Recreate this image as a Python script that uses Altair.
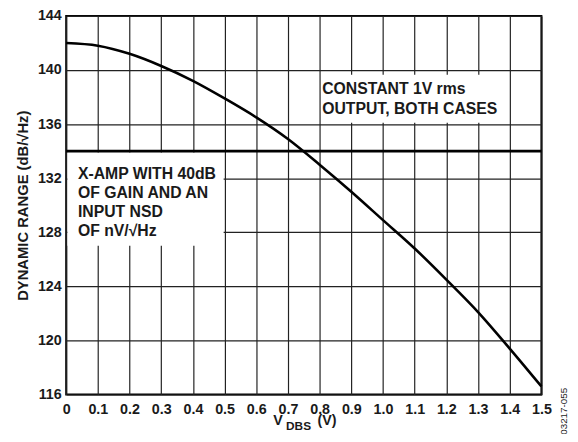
import altair as alt
import pandas as pd

# ---- data ----
vdbs = [0.0, 0.1, 0.2, 0.3, 0.4, 0.5, 0.6, 0.7, 0.8, 0.9, 1.0, 1.1, 1.2, 1.3, 1.4, 1.5]
dyn_range = [142.0, 141.8, 141.2, 140.3, 139.2, 137.9, 136.5, 134.9, 133.0, 131.0,
             128.9, 126.8, 124.5, 122.1, 119.4, 116.6]

xamp_level = [134.0]

x_ticks = [0.0, 0.1, 0.2, 0.3, 0.4, 0.5, 0.6, 0.7, 0.8, 0.9, 1.0, 1.1, 1.2, 1.3, 1.4, 1.5]
y_ticks = [116, 120, 124, 128, 132, 136, 140, 144]

note_lines = ["X-AMP WITH 40dB", "OF GAIN AND AN", "INPUT NSD", "OF nV/\u221aHz",
              "CONSTANT 1V rms", "OUTPUT, BOTH CASES"]
note_x = [0.037, 0.037, 0.037, 0.037, 0.808, 0.808]
note_y = [132.34, 130.88, 129.48, 128.08, 138.59, 137.13]

box_x = [0.004, 0.805]
box_x2 = [0.497, 1.395]
box_y = [127.0, 136.1]
box_y2 = [133.9, 139.65]

FONT = "Liberation Sans"
W, H = 482, 384

curve_df = pd.DataFrame({"v": vdbs, "dr": dyn_range})
level_df = pd.DataFrame({"lvl": xamp_level})
note_df = pd.DataFrame({"t": note_lines, "x": note_x, "y": note_y})
box_df = pd.DataFrame({"x": box_x, "x2": box_x2, "y": box_y, "y2": box_y2})

xscale = alt.Scale(domain=[0, 1.5], nice=False, zero=False)
yscale = alt.Scale(domain=[116, 144], nice=False, zero=False)

xaxis = alt.Axis(values=x_ticks, title=None, grid=True, domain=False, ticks=False,
                 labelExpr="datum.value == 0 ? '0' : format(datum.value, '.1f')",
                 labelPadding=8, labelFontSize=14.5, labelFlush=False,
                 labelOverlap=False)
yaxis = alt.Axis(values=y_ticks, title="DYNAMIC RANGE (dB/\u221aHz)", grid=True,
                 domain=False, ticks=False,
                 labelPadding=5, labelFontSize=14.5, labelFlush=False,
                 labelOverlap=False,
                 titleX=-44, titleY=H / 2, titleAngle=270, titleAlign="center",
                 titleBaseline="middle", titleFontSize=15)


def X(field):
    return alt.X(field, scale=xscale, axis=xaxis)


def Y(field):
    return alt.Y(field, scale=yscale, axis=yaxis)


boxes = alt.Chart(box_df).mark_rect(fill="white").encode(
    x=X("x:Q"), x2="x2:Q", y=Y("y:Q"), y2="y2:Q",
)

curve = alt.Chart(curve_df).mark_line(color="black", strokeWidth=2.6,
                                      interpolate="monotone").encode(
    x=X("v:Q"), y=Y("dr:Q"),
)

level = alt.Chart(level_df).mark_rule(color="black", strokeWidth=2.6).encode(
    y=Y("lvl:Q"),
)

notes = alt.Chart(note_df).mark_text(font=FONT, fontWeight="bold", fontSize=16,
                                     align="left", baseline="middle",
                                     color="#1a1a1a").encode(
    x=X("x:Q"), y=Y("y:Q"), text="t:N",
)

one = alt.Data(values=[{}])


def label(txt, px, py, size, **kw):
    return alt.Chart(one).mark_text(text=txt, font=FONT, fontSize=size,
                                    color="#1a1a1a", **kw).encode(
        x=alt.value(px), y=alt.value(py))


t_v = label("V", 210, 415, 14.5, fontWeight="bold", align="left", baseline="alphabetic")
t_sub = label("DBS", 223, 419.5, 12, fontWeight="bold", align="left", baseline="alphabetic")
t_unit = label("(V)", 255, 415, 14.5, fontWeight="bold", align="left", baseline="alphabetic")
t_id = label("03217-055", 505, 401, 10, angle=270, align="center", baseline="middle")

chart = alt.layer(boxes, curve, level, notes, t_v, t_sub, t_unit, t_id).properties(
    width=W, height=H,
    autosize=alt.AutoSizeParams(type="none"),
    padding={"left": 59, "top": 5, "right": 29, "bottom": 37},
    background="white",
).configure_view(
    stroke="black", strokeWidth=2,
).configure_axis(
    gridColor="#222222", gridWidth=1.2, gridOpacity=1,
    labelFont=FONT, labelFontWeight="bold", labelColor="#1a1a1a",
    titleFont=FONT, titleFontWeight="bold", titleColor="#1a1a1a",
)

chart.save("out.html", embed_options={"renderer": "svg", "actions": False})
